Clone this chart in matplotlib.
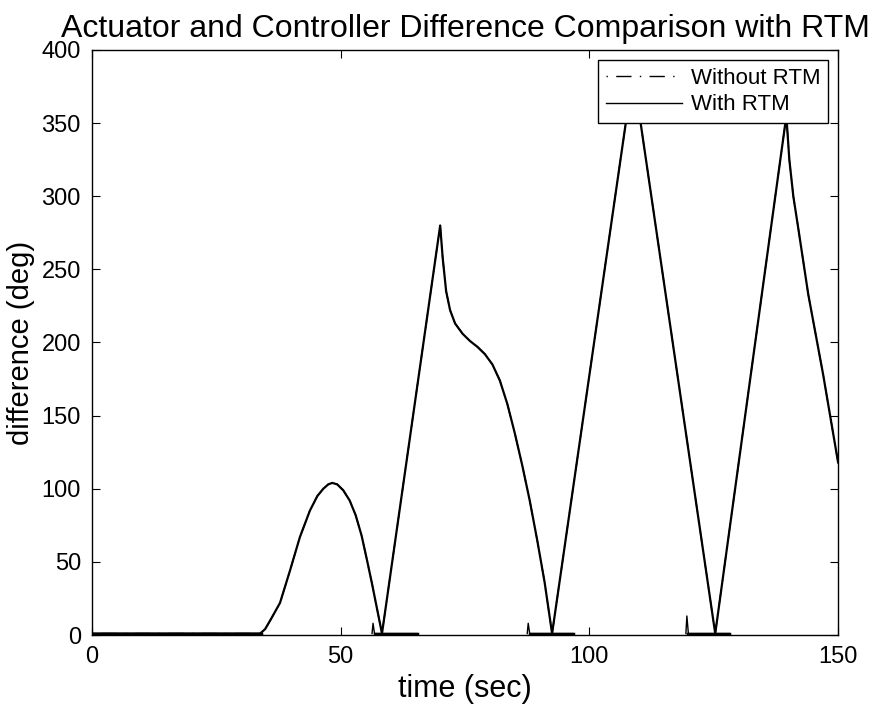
import matplotlib
matplotlib.use("Agg")
import matplotlib.pyplot as plt

plt.rcParams['font.family'] = ['Liberation Sans', 'DejaVu Sans']

# main difference curve (both runs lie on top of each other)
time_s = [0, 10, 20, 30, 33.8, 34.8, 36.0, 37.8, 39.8, 41.8, 43.8, 45.3, 46.5, 47.5, 48.3,
          49.3, 50.5, 51.8, 53.0, 54.2, 55.3, 56.3, 57.3, 58.3,
          70.0, 70.5, 71.2, 72.0, 73.0, 74.5, 76.0, 77.5, 79.0, 80.5, 82.0, 83.5,
          85.0, 86.5, 88.0, 89.5, 91.0, 92.5,
          108.8, 125.3,
          139.6, 140.2, 141.0, 142.0, 144.0, 147.0, 150.0]
diff_deg = [1, 1, 1, 1, 1, 4, 11, 22, 44, 67, 85, 95, 100, 103, 104,
            103, 99, 92, 82, 68, 51, 35, 18, 1,
            280, 258, 235, 222, 213, 206, 201, 197, 192, 185, 174, 158,
            138, 116, 92, 65, 36, 1,
            385, 1,
            355, 325, 300, 278, 233, 178, 118]

# residual chatter near zero after each crossing
resid_t = [[56.3, 56.5, 56.8, 65.3], [87.5, 87.7, 88.0, 96.7], [119.4, 119.6, 119.9, 128.1]]
resid_d = [[1, 8, 1, 1], [1, 8, 1, 1], [1, 13, 1, 1]]

fig = plt.figure(figsize=(8.73, 7.08), dpi=100)
ax = fig.add_axes([0.1054, 0.1031, 0.8546, 0.8263])

ax.plot(time_s, diff_deg, color='black', lw=1.0, ls=(0, (1, 6, 11, 6)), label='Without RTM')
ax.plot(time_s, diff_deg, color='black', lw=1.6, ls='-', label='With RTM')
for t, d in zip(resid_t, resid_d):
    ax.plot(t, d, color='black', lw=1.0)
    ax.plot([t[2], t[3]], [1, 1], color='black', lw=2.5)
ax.plot([0, 34], [1, 1], color='black', lw=2.5)

ax.set_xlim(0, 150)
ax.set_ylim(0, 400)
ax.set_xticks([0, 50, 100, 150])
ax.set_yticks(range(0, 401, 50))
ax.tick_params(direction='in', top=True, right=True, length=6, labelsize=17, pad=8)
for s in ax.spines.values():
    s.set_linewidth(1.0)

ax.set_xlabel('time (sec)', fontsize=22, labelpad=4)
ax.set_ylabel('difference (deg)', fontsize=21, labelpad=5)
ax.set_title('Actuator and Controller Difference Comparison with RTM', fontsize=23, pad=9)

leg = ax.legend(loc='upper right', fontsize=16, fancybox=False, framealpha=1,
                edgecolor='black', borderaxespad=0.45, handlelength=3.4,
                borderpad=0.35, labelspacing=0.25, handletextpad=0.4)
leg.get_frame().set_linewidth(1.0)
for h in leg.get_lines():
    h.set_linewidth(1.0)

fig.savefig('out.png', dpi=100)
